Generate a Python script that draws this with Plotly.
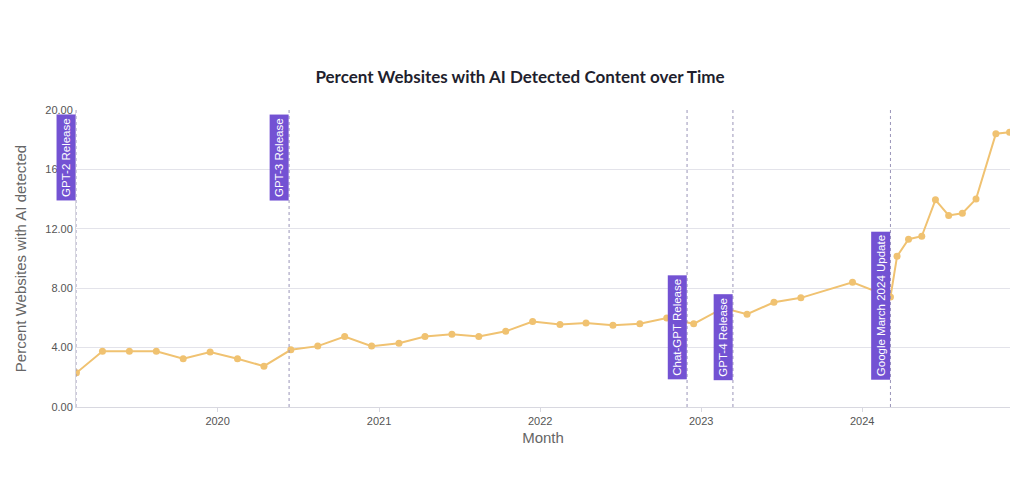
import plotly.graph_objects as go

# monthly share of websites with AI-detected content
months = [
    "2019-02-15", "2019-04-15", "2019-06-15", "2019-08-15", "2019-10-15", "2019-12-15",
    "2020-02-15", "2020-04-15", "2020-06-15", "2020-08-15", "2020-10-15", "2020-12-15",
    "2021-02-15", "2021-04-15", "2021-06-15", "2021-08-15", "2021-10-15", "2021-12-15",
    "2022-02-15", "2022-04-15", "2022-06-15", "2022-08-15", "2022-10-15", "2022-12-15",
    "2023-02-20", "2023-04-15", "2023-06-15", "2023-08-15", "2023-12-10",
    "2024-03-05", "2024-03-20", "2024-04-15", "2024-05-15", "2024-06-15", "2024-07-15",
    "2024-08-15", "2024-09-15", "2024-10-30", "2024-11-30",
]
percent = [
    2.3, 3.75, 3.75, 3.75, 3.25, 3.7,
    3.25, 2.75, 3.85, 4.1, 4.75, 4.1,
    4.3, 4.75, 4.9, 4.75, 5.1, 5.75,
    5.55, 5.65, 5.5, 5.6, 6.0, 5.6,
    6.67, 6.25, 7.05, 7.35, 8.4,
    7.4, 10.15, 11.3, 11.5, 13.95, 12.9,
    13.05, 14.0, 18.4, 18.5,
]

event_dates = ["2019-02-14", "2020-06-11", "2022-11-30", "2023-03-14", "2024-03-05"]
event_labels = ["GPT-2 Release", "GPT-3 Release", "Chat-GPT Release",
                "GPT-4 Release", "Google March 2024 Update"]
event_top = [True, True, False, False, False]

PURPLE = "#7352d3"
GOLD = "#f0c271"

fig = go.Figure()
fig.add_trace(go.Scatter(
    x=months, y=percent, mode="lines+markers",
    line=dict(color=GOLD, width=2),
    marker=dict(color=GOLD, size=7),
    showlegend=False,
))

for d, lab, top in zip(event_dates, event_labels, event_top):
    fig.add_shape(type="line", x0=d, x1=d, y0=0, y1=1, yref="paper",
                  line=dict(color="#9a94b8", width=1, dash="dot"))
    fig.add_annotation(
        x=d, y=19.7 if top else 1.8, text=lab, textangle=-90, showarrow=False,
        xanchor="right", yanchor="top" if top else "bottom",
        bgcolor=PURPLE, font=dict(color="white", size=11.5, family="Liberation Sans"),
        borderpad=3,
    )

# partially visible buttons above the chart (screen px -> paper coords)
for x0, x1, col in [(60, 347, "#221c44"), (370, 657, "#221c44"), (680, 968, "#4a4278")]:
    fig.add_shape(type="rect", xref="paper", yref="paper",
                  x0=(x0 - 68) / 942, x1=(x1 - 68) / 942,
                  y0=(407 - 3) / 297, y1=(407 + 14) / 297,
                  fillcolor=col, line=dict(width=0), layer="above")

fig.update_layout(
    width=1024, height=495,
    margin=dict(l=60, r=22, t=102, b=96),
    paper_bgcolor="white", plot_bgcolor="white",
    title=dict(text="<b>Percent Websites with AI Detected Content over Time</b>",
               x=0.5, xanchor="center", y=0.86, yanchor="middle",
               font=dict(size=17, color="#1f1f2e", family="Lato")),
    font=dict(family="Liberation Sans", color="#555"),
    xaxis=dict(
        title=dict(text="Month", font=dict(size=15, color="#666"), standoff=6),
        range=["2019-02-14", "2024-12-01"], showgrid=False,
        showline=True, linecolor="#d8d8e0", ticks="outside", ticklen=4,
        tickcolor="#d8d8e0", dtick="M12", tickformat="%Y",
        tickfont=dict(size=11, color="#555"),
    ),
    yaxis=dict(
        title=dict(text="Percent Websites with AI detected", font=dict(size=15, color="#666")),
        range=[0, 20], tickvals=[0, 4, 8, 12, 16, 20], tickformat=".2f",
        gridcolor="#e3e3ea", zeroline=False, showline=True, linecolor="#d8d8e0",
        tickfont=dict(size=11, color="#555"),
    ),
)

fig.write_html("out.html")
